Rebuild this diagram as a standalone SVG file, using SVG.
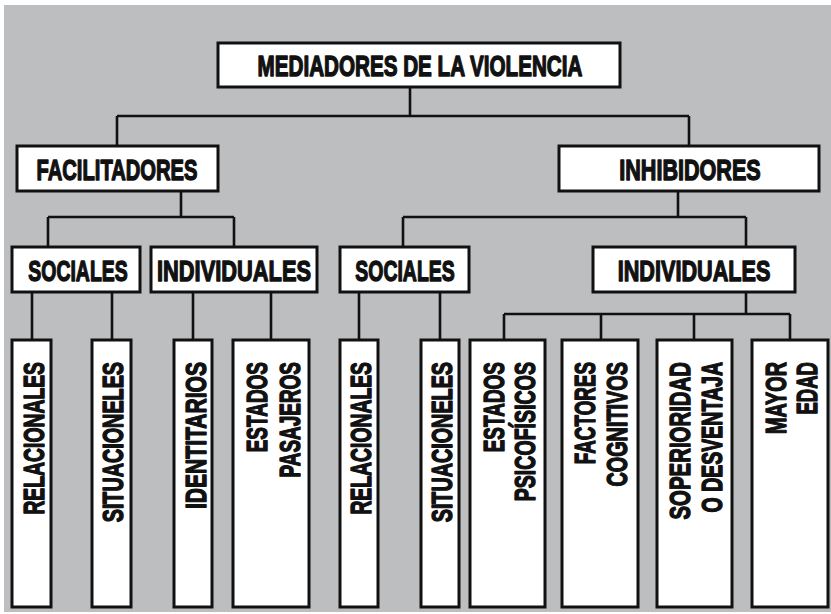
<svg xmlns="http://www.w3.org/2000/svg" width="831" height="614" viewBox="0 0 831 614">
<style>
.box{fill:#ffffff;stroke:#111111;stroke-width:3}
.ln{fill:none;stroke:#111111;stroke-width:2.6}
.t{font-family:"Liberation Sans",Arial,sans-serif;font-weight:bold;font-size:30px;fill:#111111;stroke:#111111;stroke-width:1.4;stroke-linejoin:round;text-anchor:middle}
.v{font-family:"Liberation Sans",Arial,sans-serif;font-weight:bold;font-size:30px;fill:#111111;stroke:#111111;stroke-width:1.4;stroke-linejoin:round;text-anchor:end}
</style>
<rect x="0" y="0" width="831" height="614" fill="#ffffff"/>
<rect x="4" y="5" width="827" height="607" fill="#bcbec0"/>
<g id="connectors">
<path class="ln" d="M410 87V116M117 116H689M117 116V146M689 116V146"/>
<path class="ln" d="M181 191V217M48 217H234M48 217V247M234 217V247"/>
<path class="ln" d="M678 191V217M403 217H746M403 217V247M746 217V247"/>
<path class="ln" d="M32 292V340M112 292V340M193 292V340M271 292V340M359 292V340M440 292V340"/>
<path class="ln" d="M746 292V314M504 314H790M504 314V340M601 314V340M694 314V340M790 314V340"/>
</g>
<g id="n-root"><rect class="box" x="218" y="43" width="402" height="44"/><text class="t" style="font-size:29px" transform="translate(420 76) scale(0.7 1)" textLength="464" lengthAdjust="spacingAndGlyphs">MEDIADORES DE LA VIOLENCIA</text></g>
<g id="n-facilitadores"><rect class="box" x="17" y="146" width="201" height="45"/><text class="t" transform="translate(117 180) scale(0.7 1)" textLength="230" lengthAdjust="spacingAndGlyphs">FACILITADORES</text></g>
<g id="n-inhibidores"><rect class="box" x="559" y="146" width="260" height="45"/><text class="t" transform="translate(690 180) scale(0.7 1)" textLength="202" lengthAdjust="spacingAndGlyphs">INHIBIDORES</text></g>
<g id="n-f-sociales"><rect class="box" x="12" y="247" width="128" height="45"/><text class="t" transform="translate(78 281) scale(0.7 1)" textLength="142" lengthAdjust="spacingAndGlyphs">SOCIALES</text></g>
<g id="n-f-individuales"><rect class="box" x="151" y="247" width="166" height="45"/><text class="t" transform="translate(234 281) scale(0.7 1)" textLength="220" lengthAdjust="spacingAndGlyphs">INDIVIDUALES</text></g>
<g id="n-i-sociales"><rect class="box" x="340" y="247" width="129" height="45"/><text class="t" transform="translate(405 281) scale(0.7 1)" textLength="142" lengthAdjust="spacingAndGlyphs">SOCIALES</text></g>
<g id="n-i-individuales"><rect class="box" x="593" y="247" width="202" height="45"/><text class="t" transform="translate(694 281) scale(0.7 1)" textLength="218" lengthAdjust="spacingAndGlyphs">INDIVIDUALES</text></g>
<g id="n-f-relacionales"><rect class="box" x="12" y="340" width="39" height="267"/><text class="v" transform="translate(44 362) rotate(-90) scale(0.7 1)" textLength="218" lengthAdjust="spacingAndGlyphs">RELACIONALES</text></g>
<g id="n-f-situacioneles"><rect class="box" x="92" y="340" width="39" height="267"/><text class="v" transform="translate(123 362) rotate(-90) scale(0.7 1)" textLength="229" lengthAdjust="spacingAndGlyphs">SITUACIONELES</text></g>
<g id="n-identitarios"><rect class="box" x="174" y="340" width="38" height="267"/><text class="v" transform="translate(206 362) rotate(-90) scale(0.7 1)" textLength="210" lengthAdjust="spacingAndGlyphs">IDENTITARIOS</text></g>
<g id="n-estados-pasajeros"><rect class="box" x="233" y="340" width="76" height="267"/><text class="v" transform="translate(267 362) rotate(-90) scale(0.7 1)" textLength="129" lengthAdjust="spacingAndGlyphs">ESTADOS</text><text class="v" transform="translate(300 362) rotate(-90) scale(0.7 1)" textLength="165" lengthAdjust="spacingAndGlyphs">PASAJEROS</text></g>
<g id="n-i-relacionales"><rect class="box" x="340" y="340" width="38" height="267"/><text class="v" transform="translate(371 362) rotate(-90) scale(0.7 1)" textLength="218" lengthAdjust="spacingAndGlyphs">RELACIONALES</text></g>
<g id="n-i-situacioneles"><rect class="box" x="421" y="340" width="38" height="267"/><text class="v" transform="translate(452 362) rotate(-90) scale(0.7 1)" textLength="229" lengthAdjust="spacingAndGlyphs">SITUACIONELES</text></g>
<g id="n-estados-psicofisicos"><rect class="box" x="470" y="340" width="75" height="267"/><text class="v" transform="translate(504 362) rotate(-90) scale(0.7 1)" textLength="129" lengthAdjust="spacingAndGlyphs">ESTADOS</text><text class="v" transform="translate(535 362) rotate(-90) scale(0.7 1)" textLength="199" lengthAdjust="spacingAndGlyphs">PSICOFÍSICOS</text></g>
<g id="n-factores-cognitivos"><rect class="box" x="562" y="340" width="76" height="267"/><text class="v" transform="translate(595 362) rotate(-90) scale(0.7 1)" textLength="146" lengthAdjust="spacingAndGlyphs">FACTORES</text><text class="v" transform="translate(627 362) rotate(-90) scale(0.7 1)" textLength="178" lengthAdjust="spacingAndGlyphs">COGNITIVOS</text></g>
<g id="n-superioridad"><rect class="box" x="657" y="340" width="75" height="267"/><text class="v" transform="translate(690 362) rotate(-90) scale(0.7 1)" textLength="225" lengthAdjust="spacingAndGlyphs">SOPERIORIDAD</text><text class="v" transform="translate(722 362) rotate(-90) scale(0.7 1)" textLength="215" lengthAdjust="spacingAndGlyphs">O DESVENTAJA</text></g>
<g id="n-mayor-edad"><rect class="box" x="752" y="340" width="76" height="267"/><text class="v" transform="translate(786 362) rotate(-90) scale(0.7 1)" textLength="103" lengthAdjust="spacingAndGlyphs">MAYOR</text><text class="v" transform="translate(817 362) rotate(-90) scale(0.7 1)" textLength="75" lengthAdjust="spacingAndGlyphs">EDAD</text></g>
</svg>
